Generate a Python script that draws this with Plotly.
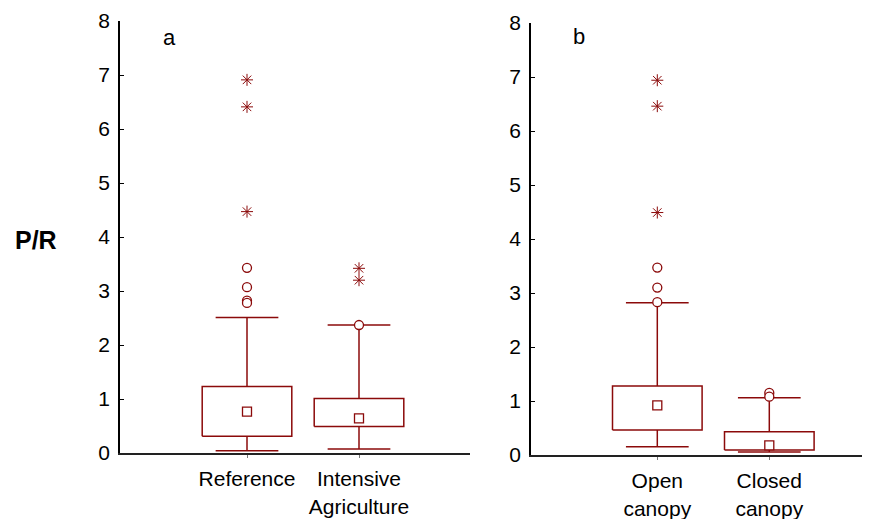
import plotly.graph_objects as go

# ---------------- data ----------------
categories_a = ["Reference", "Intensive<br>Agriculture"]
q1_a = [0.31, 0.49]
q3_a = [1.23, 1.01]
median_a = [0.765, 0.64]
lower_a = [0.04, 0.075]
upper_a = [2.51, 2.37]
outliers_a = [[3.43, 3.07, 2.82, 2.78], [2.37]]
extremes_a = [[4.47, 6.41, 6.91], [3.42, 3.20]]

categories_b = ["Open<br>canopy", "Closed<br>canopy"]
q1_b = [0.463, 0.093]
q3_b = [1.278, 0.43]
median_b = [0.92, 0.18]
lower_b = [0.154, 0.056]
upper_b = [2.82, 1.06]
outliers_b = [[3.47, 3.10, 2.83], [1.15, 1.08]]
extremes_b = [[4.49, 6.46, 6.94], []]

y_ticks = [0, 1, 2, 3, 4, 5, 6, 7, 8]

# ---------------- style ----------------
RED = "rgb(139,10,10)"
FONT = "Liberation Sans, Arial, sans-serif"
BOX_HALF = 0.40
CAP_HALF = 0.28
W = 870
H = 519
OFF = 8  # page body margin: window coords = figure coords + OFF

fig = go.Figure()


def add_panel(xa, ya, q1, q3, med, lo, hi, outl, extr):
    for i in range(len(q1)):
        p = i + 1
        # box
        fig.add_trace(go.Scatter(
            x=[p - BOX_HALF, p + BOX_HALF, p + BOX_HALF, p - BOX_HALF, p - BOX_HALF],
            y=[q1[i], q1[i], q3[i], q3[i], q1[i]],
            mode="lines", line=dict(color=RED, width=1.5),
            xaxis=xa, yaxis=ya, showlegend=False, hoverinfo="skip"))
        # whiskers
        fig.add_trace(go.Scatter(
            x=[p, p, None, p, p, None, p - CAP_HALF, p + CAP_HALF, None, p - CAP_HALF, p + CAP_HALF],
            y=[q3[i], hi[i], None, q1[i], lo[i], None, hi[i], hi[i], None, lo[i], lo[i]],
            mode="lines", line=dict(color=RED, width=1.5),
            xaxis=xa, yaxis=ya, showlegend=False, hoverinfo="skip"))
        # median square
        fig.add_trace(go.Scatter(
            x=[p], y=[med[i]], mode="markers",
            marker=dict(symbol="square", size=9, color="white", line=dict(color=RED, width=1.3)),
            xaxis=xa, yaxis=ya, showlegend=False))
        # outliers
        if outl[i]:
            fig.add_trace(go.Scatter(
                x=[p] * len(outl[i]), y=outl[i], mode="markers",
                marker=dict(symbol="circle", size=9, color="white", line=dict(color=RED, width=1.3)),
                xaxis=xa, yaxis=ya, showlegend=False))
        # extremes
        if extr[i]:
            fig.add_trace(go.Scatter(
                x=[p] * len(extr[i]), y=extr[i], mode="markers",
                marker=dict(symbol="asterisk-open", size=10, color=RED, line=dict(color=RED, width=1)),
                xaxis=xa, yaxis=ya, showlegend=False))


add_panel("x", "y", q1_a, q3_a, median_a, lower_a, upper_a, outliers_a, extremes_a)
add_panel("x2", "y2", q1_b, q3_b, median_b, lower_b, upper_b, outliers_b, extremes_b)

# target pixel geometry (window coords)
ax_l = dict(x0=120, x1=470, y0=453, y8=21, c1=247)
ax_r = dict(x0=531, x1=870, y0=455, y8=23, c1=657.3)
PX_PER_CAT = 112.0


def fx(px):
    return (px - OFF) / W


def fy(py):
    return (H - (py - OFF)) / H


def xrange_for(g):
    return [1 + (g["x0"] - g["c1"]) / PX_PER_CAT, 1 + (g["x1"] - g["c1"]) / PX_PER_CAT]


def common_y(g):
    return dict(
        range=[0, 8], domain=[fy(g["y0"]), fy(g["y8"])],
        tickvals=y_ticks, ticktext=[str(v) for v in y_ticks],
        showline=True, linecolor="black", linewidth=1.5,
        ticks="inside", ticklen=4, tickwidth=1, tickcolor="black",
        showgrid=False, zeroline=False, automargin=False,
        tickfont=dict(family=FONT, size=21, color="black"),
        ticklabelstandoff=4, fixedrange=True)


def common_x(g, cats):
    return dict(
        range=xrange_for(g), domain=[fx(g["x0"]), min(1.0, fx(g["x1"]))],
        tickvals=[1, 2], ticktext=cats,
        showline=True, linecolor="#222", linewidth=2,
        ticks="outside", ticklen=3, tickwidth=1, tickcolor="#777",
        showgrid=False, zeroline=False, automargin=False,
        tickfont=dict(family=FONT, size=21, color="black"),
        ticklabelstandoff=3, fixedrange=True)


fig.update_layout(
    width=W, height=H,
    margin=dict(l=0, r=0, t=0, b=0, autoexpand=False),
    paper_bgcolor="white", plot_bgcolor="white",
    xaxis=dict(**common_x(ax_l, categories_a), anchor="y"),
    yaxis=dict(**common_y(ax_l), anchor="x"),
    xaxis2=dict(**common_x(ax_r, categories_b), anchor="y2"),
    yaxis2=dict(**common_y(ax_r), anchor="x2"),
    font=dict(family=FONT, color="black"),
    annotations=[
        dict(text="<b>P/R</b>", x=fx(36), y=fy(240), xref="paper", yref="paper",
             showarrow=False, font=dict(family=FONT, size=25, color="black"),
             xanchor="center", yanchor="middle"),
        dict(text="a", x=fx(169), y=fy(38), xref="paper", yref="paper",
             showarrow=False, font=dict(family=FONT, size=22, color="black"),
             xanchor="center", yanchor="middle"),
        dict(text="b", x=fx(579), y=fy(37), xref="paper", yref="paper",
             showarrow=False, font=dict(family=FONT, size=22, color="black"),
             xanchor="center", yanchor="middle"),
    ],
)

fig.write_html("out.html")
